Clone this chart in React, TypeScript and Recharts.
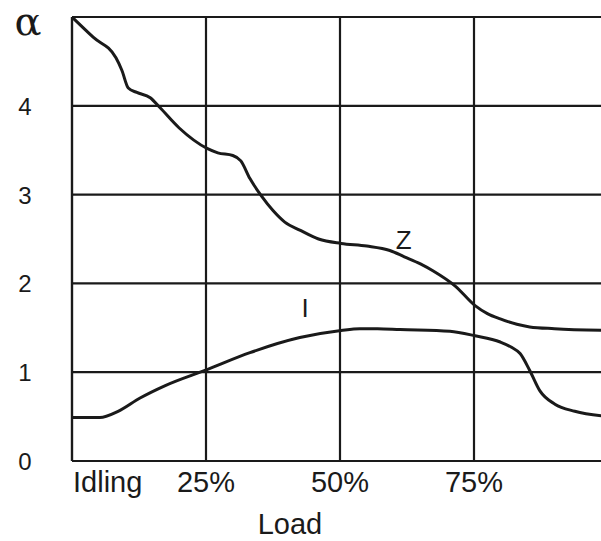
import { CartesianGrid, Line, LineChart, ReferenceDot, XAxis, YAxis } from 'recharts'

// load (%) and alpha
const zLoad = [0, 4, 8.2, 9.3, 10.5, 12.1, 14.6, 16.4, 20, 25.2, 27.2, 30, 31.5, 33.2, 35.4, 37.5, 39.7, 42.5, 46, 50.2, 55, 59.3, 62, 65, 67.4, 71.5, 75.2, 77.5, 79.9, 83, 85.4, 90, 100]
const zAlpha = [5.0, 4.77, 4.54, 4.4, 4.2, 4.15, 4.09, 3.98, 3.75, 3.52, 3.47, 3.44, 3.38, 3.18, 2.98, 2.82, 2.69, 2.6, 2.5, 2.45, 2.42, 2.37, 2.3, 2.22, 2.14, 1.97, 1.75, 1.66, 1.6, 1.54, 1.51, 1.49, 1.47]

const iLoad = [0, 5.2, 8.6, 12.7, 17.4, 25.2, 33.2, 42.5, 50.2, 53.7, 57, 61.2, 70.5, 75.2, 79.9, 82, 83.6, 85.4, 87.3, 90.1, 93.8, 100]
const iAlpha = [0.49, 0.49, 0.56, 0.71, 0.85, 1.03, 1.22, 1.39, 1.47, 1.49, 1.49, 1.48, 1.46, 1.41, 1.34, 1.28, 1.21, 1.02, 0.79, 0.64, 0.56, 0.5]

const xTicks = [0, 25, 50, 75, 100]
const xTickLabels = ['Idling', '25%', '50%', '75%', '']
const yTicks = [0, 1, 2, 3, 4, 5]
const yTickLabels = ['0', '1', '2', '3', '4', 'α']

const zData = zLoad.map((load, i) => ({ load, alpha: zAlpha[i] }))
const iData = iLoad.map((load, i) => ({ load, alpha: iAlpha[i] }))

const ink = '#1a1a1a'
const font = '"Liberation Sans", Arial, sans-serif'

function XTick({ x, y, payload }: any) {
  const idx = xTicks.indexOf(payload.value)
  const first = idx === 0
  if (!xTickLabels[idx]) return null
  return (
    <text
      x={first ? x + 1 : x}
      y={y + 23}
      textAnchor={first ? 'start' : 'middle'}
      fontSize={29}
      fontFamily={font}
      fill={ink}
    >
      {xTickLabels[idx]}
    </text>
  )
}

function YTick({ y, payload }: any) {
  const idx = yTicks.indexOf(payload.value)
  if (idx === yTicks.length - 1) {
    return (
      <text x={28} y={y + 18} textAnchor="middle" fontSize={40} fontFamily='"DejaVu Serif", serif' fill={ink}>
        {yTickLabels[idx]}
      </text>
    )
  }
  return (
    <text x={25} y={y + 9} textAnchor="middle" fontSize={24} fontFamily={font} fill={ink}>
      {yTickLabels[idx]}
    </text>
  )
}

export default function App() {
  return (
    <div
      style={{
        position: 'absolute',
        left: 0,
        top: 0,
        width: 601,
        height: 541,
        overflow: 'hidden',
        background: '#fff',
      }}
    >
      <LineChart width={620} height={541} margin={{ top: 17, right: 12, left: 0, bottom: 0 }}>
        <CartesianGrid stroke={ink} strokeWidth={2.2} horizontalValues={yTicks} verticalValues={xTicks} />
        <XAxis
          type="number"
          dataKey="load"
          domain={[0, 100]}
          ticks={xTicks}
          tick={<XTick />}
          tickLine={false}
          axisLine={{ stroke: ink, strokeWidth: 2.2 }}
          height={80}
          interval={0}
          label={{ value: 'Load', position: 'insideBottom', offset: 7, dx: -50, fontSize: 29, fontFamily: font, fill: ink }}
        />
        <YAxis
          type="number"
          domain={[0, 5]}
          ticks={yTicks}
          tick={<YTick />}
          tickLine={false}
          axisLine={{ stroke: ink, strokeWidth: 2.2 }}
          width={72}
          interval={0}
        />
        <Line data={zData} dataKey="alpha" type="monotone" stroke={ink} strokeWidth={3} dot={false} isAnimationActive={false} />
        <Line data={iData} dataKey="alpha" type="monotone" stroke={ink} strokeWidth={3} dot={false} isAnimationActive={false} />
        <ReferenceDot
          x={61.9}
          y={2.49}
          r={0}
          stroke="none"
          fill="none"
          label={{ value: 'Z', position: 'center', fontSize: 26, fontFamily: font, fill: ink }}
        />
        <ReferenceDot
          x={43.5}
          y={1.72}
          r={0}
          stroke="none"
          fill="none"
          label={{ value: 'I', position: 'center', fontSize: 26, fontFamily: font, fill: ink }}
        />
      </LineChart>
    </div>
  )
}
